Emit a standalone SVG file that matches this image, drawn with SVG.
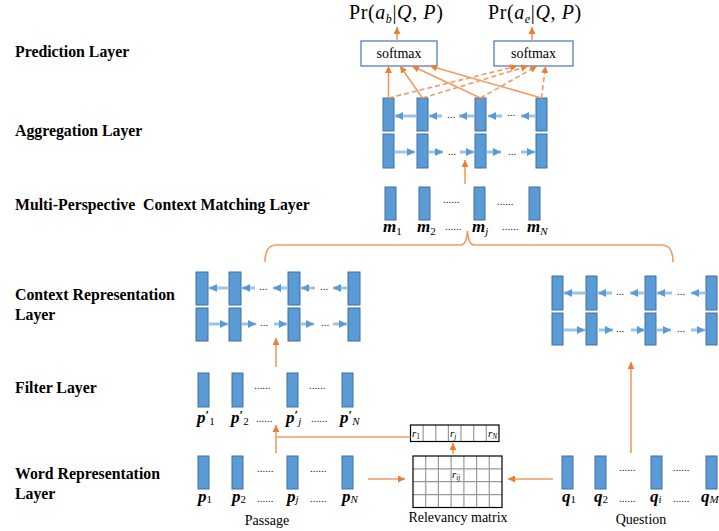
<svg xmlns="http://www.w3.org/2000/svg" width="719" height="531" viewBox="0 0 719 531">
  <style>
    .lbl { font-family: "Liberation Serif", "Times New Roman", serif; font-weight: bold; font-size: 15.8px; fill: #000; }
    .cell { fill: #5B9BD5; stroke: #41719C; stroke-width: 1; }
    .sym { font-family: "Liberation Serif", "Times New Roman", serif; font-weight: bold; font-style: italic; font-size: 17px; fill: #000; }
    .sub { font-weight: normal; font-style: normal; font-size: 11px; }
    .subi { font-weight: normal; font-style: italic; font-size: 11px; }
    .prm { font-weight: bold; font-style: normal; font-size: 13px; }
    .dots { font-family: "Liberation Serif", serif; font-size: 11px; fill: #222; }
    .cap { font-family: "Liberation Serif", "Times New Roman", serif; font-size: 14px; fill: #000; }
    .blue { stroke: #9DC3E6; stroke-width: 3; fill: none; marker-end: url(#bh); }
    .org { stroke: #F19B63; stroke-width: 1.6; fill: none; marker-end: url(#oh); }
    .orgd { stroke: #F19B63; stroke-width: 1.6; fill: none; stroke-dasharray: 5 3; marker-end: url(#oh); }
    .orgl { stroke: #F19B63; stroke-width: 1.6; fill: none; }
    .box { fill: #fff; stroke: #4472C4; stroke-width: 1.2; }
    .math { font-family: "Liberation Serif", "Times New Roman", serif; font-size: 20px; letter-spacing: 0.6px; fill: #000; }
    .grid { stroke: #9a9a9a; stroke-width: 1.2; }
    .rl { font-family: "Liberation Serif", serif; font-style: italic; font-size: 11px; fill: #000; }
  </style>
  <defs>
    <marker id="bh" markerUnits="userSpaceOnUse" markerWidth="8" markerHeight="8" refX="8" refY="4" orient="auto">
      <path d="M0,0 L8,4 L0,8 z" fill="#5B9BD5"/>
    </marker>
    <marker id="oh" markerUnits="userSpaceOnUse" markerWidth="7" markerHeight="7" refX="7" refY="3.5" orient="auto">
      <path d="M0,0 L7,3.5 L0,7 z" fill="#ED7D31"/>
    </marker>
  </defs>
  <rect width="719" height="531" fill="#fff"/>

  <!-- layer names -->
  <g id="layer-labels">
    <text class="lbl" x="15" y="57">Prediction Layer</text>
    <text class="lbl" x="15" y="136">Aggregation Layer</text>
    <text class="lbl" x="15" y="210" xml:space="preserve">Multi-Perspective  Context Matching Layer</text>
    <text class="lbl" x="15" y="300">Context Representation</text>
    <text class="lbl" x="15" y="320">Layer</text>
    <text class="lbl" x="15" y="393">Filter Layer</text>
    <text class="lbl" x="15" y="479">Word Representation</text>
    <text class="lbl" x="15" y="499">Layer</text>
  </g>

  <!-- outputs -->
  <g id="prob-begin">
    <text class="math" x="349" y="19">Pr(<tspan font-style="italic">a</tspan><tspan font-style="italic" font-size="12" dy="4">b</tspan><tspan dy="-4">|</tspan><tspan font-style="italic">Q</tspan>, <tspan font-style="italic">P</tspan>)</text>
  </g>
  <g id="prob-end">
    <text class="math" x="488" y="19">Pr(<tspan font-style="italic">a</tspan><tspan font-style="italic" font-size="12" dy="4">e</tspan><tspan dy="-4">|</tspan><tspan font-style="italic">Q</tspan>, <tspan font-style="italic">P</tspan>)</text>
  </g>

  <!-- prediction layer -->
  <g id="softmax-begin">
    <rect class="box" x="361" y="41" width="76" height="25"/>
    <text class="cap" x="399" y="58" text-anchor="middle" font-size="16.5">softmax</text>
  </g>
  <g id="softmax-end">
    <rect class="box" x="494" y="41" width="79" height="25"/>
    <text class="cap" x="533.5" y="58" text-anchor="middle" font-size="16.5">softmax</text>
  </g>

  <!-- aggregation layer -->
  <g id="aggregation">
    <rect class="cell" x="383" y="98" width="11" height="33"/>
    <rect class="cell" x="417" y="98" width="11" height="33"/>
    <rect class="cell" x="475" y="98" width="11" height="33"/>
    <rect class="cell" x="536" y="98" width="11" height="33"/>
    <rect class="cell" x="383" y="134" width="11" height="34"/>
    <rect class="cell" x="417" y="134" width="11" height="34"/>
    <rect class="cell" x="475" y="134" width="11" height="34"/>
    <rect class="cell" x="536" y="134" width="11" height="34"/>
    <line class="blue" x1="416" y1="116" x2="395" y2="116"/>
    <line class="blue" x1="442" y1="116" x2="429" y2="116"/>
    <text class="dots" x="447" y="118">...</text>
    <line class="blue" x1="474" y1="116" x2="459" y2="116"/>
    <line class="blue" x1="502" y1="116" x2="488" y2="116"/>
    <text class="dots" x="507" y="116">...</text>
    <line class="blue" x1="535" y1="116" x2="521" y2="116"/>
    <line class="blue" x1="395" y1="152" x2="415" y2="152"/>
    <line class="blue" x1="429" y1="152" x2="443" y2="152"/>
    <text class="dots" x="448" y="155">...</text>
    <line class="blue" x1="460" y1="152" x2="474" y2="152"/>
    <line class="blue" x1="487" y1="152" x2="501" y2="152"/>
    <text class="dots" x="508" y="155">...</text>
    <line class="blue" x1="521" y1="152" x2="535" y2="152"/>
  </g>

  <!-- matching layer -->
  <g id="matching">
    <rect class="cell" x="385" y="187" width="11" height="33"/>
    <rect class="cell" x="419" y="187" width="11" height="33"/>
    <rect class="cell" x="474" y="187" width="11" height="33"/>
    <rect class="cell" x="529" y="187" width="11" height="33"/>
    <text class="dots" x="443" y="203">......</text>
    <text class="dots" x="497" y="205">......</text>
    <text class="sym" x="383" y="232">m<tspan class="sub" dy="3">1</tspan></text>
    <text class="sym" x="417" y="232">m<tspan class="sub" dy="3">2</tspan></text>
    <text class="dots" x="445" y="230">......</text>
    <text class="sym" x="472" y="232">m<tspan class="subi" dy="3">j</tspan></text>
    <text class="dots" x="502" y="230">......</text>
    <text class="sym" x="527" y="232">m<tspan class="subi" dy="3">N</tspan></text>
  </g>

  <!-- passage context representation -->
  <g id="context-passage">
    <rect class="cell" x="196" y="272" width="12" height="33"/>
    <rect class="cell" x="229" y="272" width="12" height="33"/>
    <rect class="cell" x="288" y="272" width="12" height="33"/>
    <rect class="cell" x="348" y="272" width="12" height="33"/>
    <rect class="cell" x="196" y="308" width="12" height="33"/>
    <rect class="cell" x="229" y="308" width="12" height="33"/>
    <rect class="cell" x="288" y="308" width="12" height="33"/>
    <rect class="cell" x="348" y="308" width="12" height="33"/>
    <line class="blue" x1="229" y1="288" x2="209" y2="288"/>
    <line class="blue" x1="255" y1="288" x2="242" y2="288"/>
    <text class="dots" x="259" y="290">...</text>
    <line class="blue" x1="288" y1="288" x2="273" y2="288"/>
    <line class="blue" x1="315" y1="288" x2="301" y2="288"/>
    <text class="dots" x="320" y="290">...</text>
    <line class="blue" x1="348" y1="288" x2="333" y2="288"/>
    <line class="blue" x1="209" y1="324" x2="228" y2="324"/>
    <line class="blue" x1="242" y1="324" x2="256" y2="324"/>
    <text class="dots" x="260" y="326">...</text>
    <line class="blue" x1="274" y1="324" x2="287" y2="324"/>
    <line class="blue" x1="300" y1="324" x2="314" y2="324"/>
    <text class="dots" x="321" y="326">...</text>
    <line class="blue" x1="333" y1="324" x2="347" y2="324"/>
  </g>

  <!-- question context representation -->
  <g id="context-question">
    <rect class="cell" x="552" y="276" width="11" height="34"/>
    <rect class="cell" x="586" y="276" width="11" height="34"/>
    <rect class="cell" x="645" y="276" width="11" height="34"/>
    <rect class="cell" x="706" y="276" width="11" height="34"/>
    <rect class="cell" x="552" y="313" width="11" height="32"/>
    <rect class="cell" x="586" y="313" width="11" height="32"/>
    <rect class="cell" x="645" y="313" width="11" height="32"/>
    <rect class="cell" x="706" y="313" width="11" height="32"/>
    <line class="blue" x1="586" y1="293" x2="564" y2="293"/>
    <line class="blue" x1="612" y1="293" x2="598" y2="293"/>
    <text class="dots" x="616" y="295">...</text>
    <line class="blue" x1="645" y1="293" x2="630" y2="293"/>
    <line class="blue" x1="672" y1="293" x2="657" y2="293"/>
    <text class="dots" x="677" y="295">...</text>
    <line class="blue" x1="706" y1="293" x2="691" y2="293"/>
    <line class="blue" x1="564" y1="330" x2="585" y2="330"/>
    <line class="blue" x1="599" y1="330" x2="613" y2="330"/>
    <text class="dots" x="616" y="332">...</text>
    <line class="blue" x1="631" y1="330" x2="645" y2="330"/>
    <line class="blue" x1="657" y1="330" x2="671" y2="330"/>
    <text class="dots" x="677" y="332">...</text>
    <line class="blue" x1="691" y1="330" x2="705" y2="330"/>
  </g>

  <!-- filter layer -->
  <g id="filter">
    <rect class="cell" x="198" y="373" width="11" height="34"/>
    <rect class="cell" x="232" y="373" width="11" height="34"/>
    <rect class="cell" x="287" y="373" width="11" height="34"/>
    <rect class="cell" x="342" y="373" width="11" height="34"/>
    <text class="dots" x="254" y="389">......</text>
    <text class="dots" x="309" y="389">......</text>
    <text class="sym" x="197" y="423">p<tspan class="prm" dy="-4">′</tspan><tspan class="sub" dy="6">1</tspan></text>
    <text class="sym" x="231" y="423">p<tspan class="prm" dy="-4">′</tspan><tspan class="sub" dy="6">2</tspan></text>
    <text class="dots" x="256" y="422">......</text>
    <text class="sym" x="286" y="423">p<tspan class="prm" dy="-4">′</tspan><tspan class="subi" dy="6">j</tspan></text>
    <text class="dots" x="311" y="422">......</text>
    <text class="sym" x="340" y="423">p<tspan class="prm" dy="-4">′</tspan><tspan class="subi" dy="6">N</tspan></text>
  </g>

  <!-- passage word representation -->
  <g id="word-passage">
    <rect class="cell" x="198" y="456" width="11" height="33"/>
    <rect class="cell" x="232" y="456" width="11" height="33"/>
    <rect class="cell" x="287" y="456" width="11" height="33"/>
    <rect class="cell" x="342" y="456" width="11" height="33"/>
    <text class="dots" x="257" y="472">......</text>
    <text class="dots" x="310" y="472">......</text>
    <text class="sym" x="198" y="502">p<tspan class="sub" dy="1">1</tspan></text>
    <text class="sym" x="232" y="502">p<tspan class="sub" dy="1">2</tspan></text>
    <text class="dots" x="257" y="502">......</text>
    <text class="sym" x="287" y="502">p<tspan class="subi" dy="1">j</tspan></text>
    <text class="dots" x="310" y="502">......</text>
    <text class="sym" x="342" y="502">p<tspan class="subi" dy="1">N</tspan></text>
    <text class="cap" x="267" y="525" text-anchor="middle">Passage</text>
  </g>

  <!-- question word representation -->
  <g id="word-question">
    <rect class="cell" x="562" y="456" width="11" height="33"/>
    <rect class="cell" x="595" y="456" width="11" height="33"/>
    <rect class="cell" x="651" y="456" width="11" height="33"/>
    <rect class="cell" x="706" y="456" width="11" height="33"/>
    <text class="dots" x="619" y="471">......</text>
    <text class="dots" x="673" y="471">......</text>
    <text class="sym" x="562" y="502">q<tspan class="sub" dy="1">1</tspan></text>
    <text class="sym" x="594" y="502">q<tspan class="sub" dy="1">2</tspan></text>
    <text class="dots" x="619" y="502">......</text>
    <text class="sym" x="650" y="502">q<tspan class="subi" dy="1">i</tspan></text>
    <text class="dots" x="673" y="502">......</text>
    <text class="sym" x="701" y="502">q<tspan class="subi" font-size="9" dy="1">M</tspan></text>
    <text class="cap" x="641" y="524" text-anchor="middle">Question</text>
  </g>

  <!-- relevancy vector r -->
  <g id="relevancy-vector">
    <rect x="410.5" y="425" width="88.5" height="16.5" fill="#fff" stroke="none"/>
    <line class="grid" x1="423.2" y1="425" x2="423.2" y2="441.5"/>
    <line class="grid" x1="435.8" y1="425" x2="435.8" y2="441.5"/>
    <line class="grid" x1="448.4" y1="425" x2="448.4" y2="441.5"/>
    <line class="grid" x1="461" y1="425" x2="461" y2="441.5"/>
    <line class="grid" x1="473.7" y1="425" x2="473.7" y2="441.5"/>
    <line class="grid" x1="486.3" y1="425" x2="486.3" y2="441.5"/>
    <rect x="410.5" y="425" width="88.5" height="16.5" fill="none" stroke="#000" stroke-width="1.2"/>
    <text class="rl" x="412" y="437">r<tspan font-style="normal" font-size="7.5" dy="2">1</tspan></text>
    <text class="rl" x="450" y="437">r<tspan font-size="7.5" dy="2">j</tspan></text>
    <text class="rl" x="488" y="437">r<tspan font-size="7.5" dy="2">N</tspan></text>
  </g>

  <!-- relevancy matrix -->
  <g id="relevancy-matrix">
    <rect x="413" y="456" width="89" height="51.5" fill="#fff"/>
    <line class="grid" x1="425.7" y1="456" x2="425.7" y2="507.5"/>
    <line class="grid" x1="438.4" y1="456" x2="438.4" y2="507.5"/>
    <line class="grid" x1="451.1" y1="456" x2="451.1" y2="507.5"/>
    <line class="grid" x1="463.9" y1="456" x2="463.9" y2="507.5"/>
    <line class="grid" x1="476.6" y1="456" x2="476.6" y2="507.5"/>
    <line class="grid" x1="489.3" y1="456" x2="489.3" y2="507.5"/>
    <line class="grid" x1="413" y1="468.9" x2="502" y2="468.9"/>
    <line class="grid" x1="413" y1="481.7" x2="502" y2="481.7"/>
    <line class="grid" x1="413" y1="494.6" x2="502" y2="494.6"/>
    <rect x="413" y="456" width="89" height="51.5" fill="none" stroke="#000" stroke-width="1.2"/>
    <text class="rl" x="452" y="478">r<tspan font-size="7.5" dy="2">ij</tspan></text>
    <text class="cap" x="458" y="522" text-anchor="middle">Relevancy matrix</text>
  </g>

  <!-- connectors -->
  <g id="connectors">
    <line class="org" x1="397" y1="41" x2="397" y2="27"/>
    <line class="org" x1="532" y1="41" x2="532" y2="27"/>
    <line class="org" x1="388.5" y1="98" x2="388.5" y2="66"/>
    <line class="org" x1="422.5" y1="98" x2="400" y2="66"/>
    <line class="org" x1="480.5" y1="98" x2="412" y2="66"/>
    <line class="org" x1="541.5" y1="98" x2="430" y2="66"/>
    <line class="orgd" x1="388.5" y1="98" x2="517" y2="66"/>
    <line class="orgd" x1="422.5" y1="98" x2="528" y2="66"/>
    <line class="orgd" x1="480.5" y1="98" x2="537" y2="66"/>
    <line class="orgd" x1="541.5" y1="98" x2="545.5" y2="66"/>
    <line class="org" x1="465" y1="184" x2="465" y2="160"/>
    <path class="orgl" d="M265,262 Q265,245 276,245 L461,245 Q466.5,245 467.5,231 Q468.5,245 474,245 L662,245 Q673,245 673,262"/>
    <line class="org" x1="276" y1="367" x2="276" y2="338"/>
    <line class="org" x1="276" y1="453" x2="276" y2="425"/>
    <line class="orgl" x1="276" y1="437" x2="410.5" y2="437"/>
    <line class="org" x1="368" y1="479" x2="405" y2="479"/>
    <line class="org" x1="553" y1="479" x2="508" y2="479"/>
    <line class="org" x1="453" y1="454" x2="453" y2="443"/>
    <line class="org" x1="631" y1="453" x2="631" y2="362"/>
  </g>
</svg>
